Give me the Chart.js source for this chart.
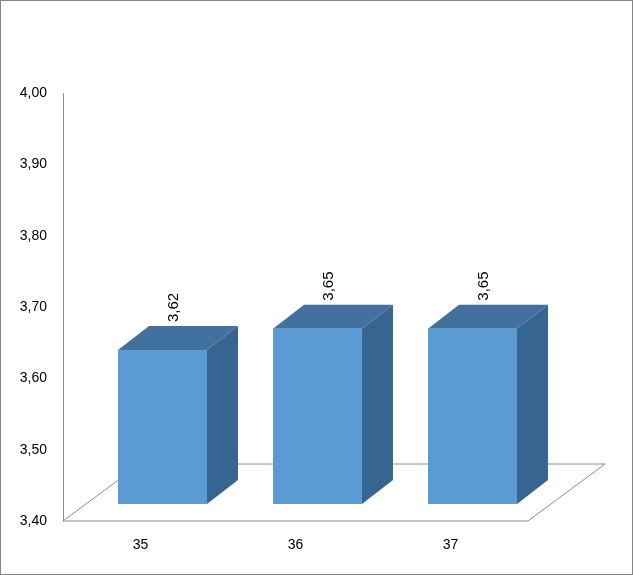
<!DOCTYPE html>
<html>
<head>
<meta charset="utf-8">
<script src="https://cdn.jsdelivr.net/npm/chart.js@4"></script>
<style>
  html, body { margin: 0; padding: 0; background: #fff; }
  #wrap { width: 631px; height: 573px; border: 1px solid #868686; position: relative; }
</style>
</head>
<body>
<div id="wrap"><canvas id="grafico"></canvas></div>
<script>
// --- DADOS ---
const categorias = ['35', '36', '37'];
const valores = [3.62, 3.65, 3.65];
const rotulos = ['3,62', '3,65', '3,65'];

const fmt = v => v.toFixed(2).replace('.', ',');

// desenha as barras em 3D a partir dos elementos do Chart.js
const barras3d = {
    id: 'barras3d',
    beforeDatasetsDraw(chart) {
        const { ctx, chartArea: a } = chart;
        const dx = 77, dy = -57;
        ctx.save();
        ctx.strokeStyle = '#8c8c8c';
        ctx.lineWidth = 1;
        ctx.beginPath();
        ctx.moveTo(a.left, a.bottom);
        ctx.lineTo(a.right, a.bottom);
        ctx.lineTo(a.right + dx, a.bottom + dy);
        ctx.lineTo(a.left + dx, a.bottom + dy);
        ctx.closePath();
        ctx.fillStyle = '#fff';
        ctx.fill();
        ctx.stroke();
        ctx.restore();
    },
    afterDatasetsDraw(chart) {
        const { ctx, chartArea: a } = chart;
        const meta = chart.getDatasetMeta(0);
        const ox = 22, oy = -16, px = 31, py = -24;
        ctx.save();
        meta.data.forEach((bar, i) => {
            const w = bar.width;
            const l = bar.x - w / 2 + ox, r = bar.x + w / 2 + ox;
            const t = bar.y + oy + 2, b = a.bottom + oy - 1;
            // lateral
            ctx.fillStyle = '#376592';
            ctx.beginPath();
            ctx.moveTo(r, t); ctx.lineTo(r + px, t + py); ctx.lineTo(r + px, b + py); ctx.lineTo(r, b);
            ctx.closePath(); ctx.fill();
            // topo
            ctx.fillStyle = '#41719c';
            ctx.beginPath();
            ctx.moveTo(l, t); ctx.lineTo(l + px, t + py); ctx.lineTo(r + px, t + py); ctx.lineTo(r, t);
            ctx.closePath(); ctx.fill();
            // frente
            ctx.fillStyle = '#5b9bd5';
            ctx.fillRect(l, t, w, b - t);
            // rótulo
            ctx.save();
            ctx.translate(bar.x + ox + 11, t + py - 4);
            ctx.rotate(-Math.PI / 2);
            ctx.fillStyle = '#000';
            ctx.font = '15px "Liberation Sans", Arial, sans-serif';
            ctx.textAlign = 'left';
            ctx.textBaseline = 'middle';
            ctx.fillText(rotulos[i], 0, 0);
            ctx.restore();
        });
        ctx.restore();
    }
};

new Chart(document.getElementById('grafico'), {
    type: 'bar',
    data: {
        labels: categorias,
        datasets: [{
            data: valores,
            backgroundColor: 'rgba(0,0,0,0)',
            categoryPercentage: 1,
            barPercentage: 0.574
        }]
    },
    options: {
        responsive: true,
        maintainAspectRatio: false,
        animation: false,
        layout: { padding: { left: 0, top: 92, right: 104, bottom: 0 } },
        plugins: { legend: { display: false }, tooltip: { enabled: false } },
        scales: {
            x: {
                grid: { display: false, drawTicks: false },
                border: { display: false },
                ticks: { color: '#000', padding: 16, font: { family: 'Liberation Sans', size: 14 } },
                afterFit: s => { s.height = 53; }
            },
            y: {
                min: 3.4, max: 4.0,
                grid: { display: false, drawTicks: false },
                border: { display: true, color: '#8c8c8c' },
                ticks: { stepSize: 0.1, color: '#000', padding: 16, callback: v => fmt(v),
                         font: { family: 'Liberation Sans', size: 14 } },
                afterFit: s => { s.width = 62; }
            }
        }
    },
    plugins: [barras3d]
});
</script>
</body>
</html>
